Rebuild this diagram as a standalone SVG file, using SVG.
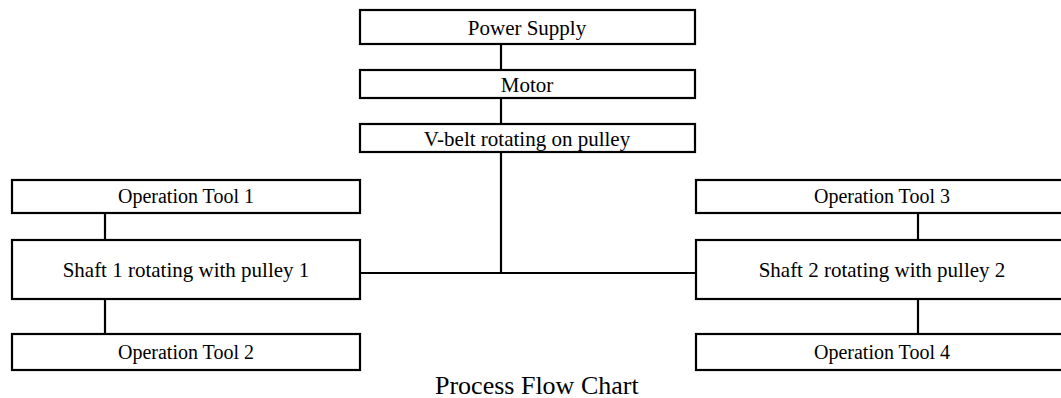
<svg xmlns="http://www.w3.org/2000/svg" width="1061" height="398" viewBox="0 0 1061 398">
<style>
.box{fill:#fff;stroke:#000;stroke-width:2.2}
.t{font-family:"Liberation Serif","Times New Roman",serif;font-size:21px;fill:#000;text-anchor:middle}
.s{font-size:20px}
.cap{font-family:"Liberation Serif","Times New Roman",serif;font-size:26px;fill:#000}
.c{stroke:#000;stroke-width:2.2;fill:none}
</style>
<rect width="1061" height="398" fill="#fff"/>
<g id="connectors">
<line class="c" x1="501" y1="44" x2="501" y2="70"/>
<line class="c" x1="501" y1="98" x2="501" y2="124"/>
<line class="c" x1="501" y1="152" x2="501" y2="273"/>
<line class="c" x1="360" y1="273" x2="696" y2="273"/>
<line class="c" x1="105" y1="213" x2="105" y2="240"/>
<line class="c" x1="105" y1="299" x2="105" y2="334"/>
<line class="c" x1="918" y1="213" x2="918" y2="240"/>
<line class="c" x1="918" y1="299" x2="918" y2="334"/>
</g>
<g id="power-supply">
<rect class="box" x="360" y="10" width="335" height="34"/>
<text class="t" x="527" y="35">Power Supply</text>
</g>
<g id="motor">
<rect class="box" x="360" y="70" width="335" height="28"/>
<text class="t" x="527" y="92">Motor</text>
</g>
<g id="v-belt">
<rect class="box" x="360" y="124" width="335" height="28"/>
<text class="t" x="527" y="146">V-belt rotating on pulley</text>
</g>
<g id="op-tool-1">
<rect class="box" x="12" y="180" width="348" height="33"/>
<text class="t s" x="186" y="203">Operation Tool 1</text>
</g>
<g id="shaft-1">
<rect class="box" x="12" y="240" width="348" height="59"/>
<text class="t" x="186" y="277">Shaft 1 rotating with pulley 1</text>
</g>
<g id="op-tool-2">
<rect class="box" x="12" y="334" width="348" height="36"/>
<text class="t s" x="186" y="359">Operation Tool 2</text>
</g>
<g id="op-tool-3">
<rect class="box" x="696" y="180" width="372" height="33"/>
<text class="t s" x="882" y="203">Operation Tool 3</text>
</g>
<g id="shaft-2">
<rect class="box" x="696" y="240" width="372" height="59"/>
<text class="t" x="882" y="277">Shaft 2 rotating with pulley 2</text>
</g>
<g id="op-tool-4">
<rect class="box" x="696" y="334" width="372" height="36"/>
<text class="t s" x="882" y="359">Operation Tool 4</text>
</g>
<text class="cap" x="435" y="394">Process Flow Chart</text>
</svg>
